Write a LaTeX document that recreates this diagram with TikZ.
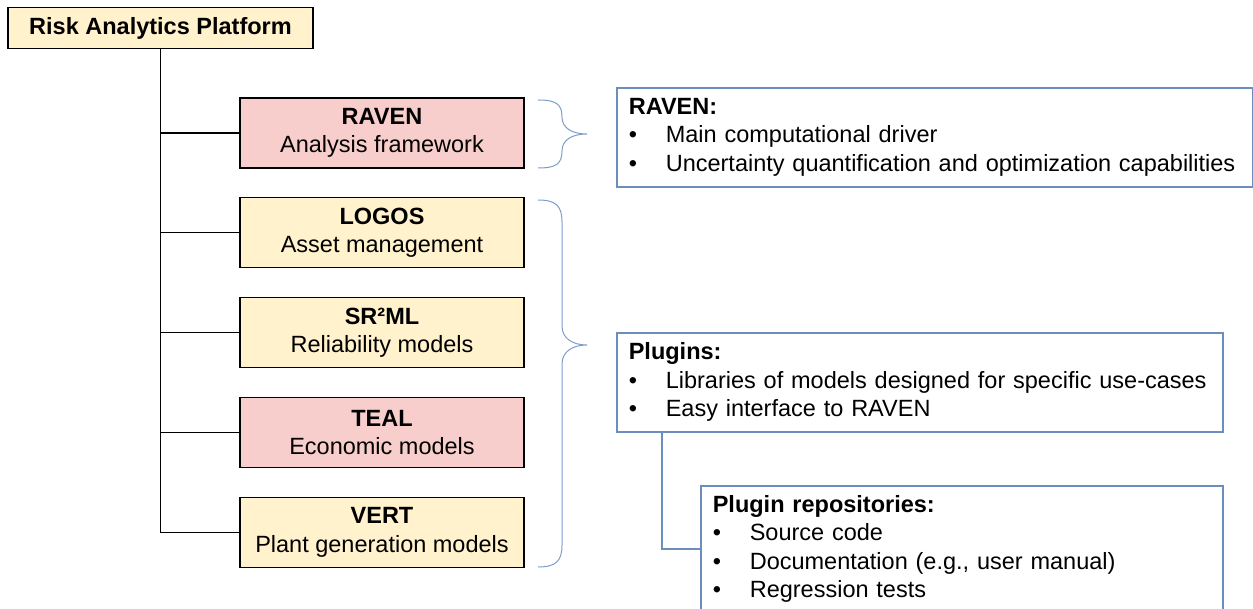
\documentclass[tikz,border=0pt]{standalone}
\usepackage{fontspec}
\setmainfont{Liberation Sans}
\usetikzlibrary{positioning}
\definecolor{boxyellow}{HTML}{FFF2CC}
\definecolor{boxpink}{HTML}{F8CECC}
\definecolor{boxblue}{HTML}{6C8EBF}
\definecolor{bracecol}{HTML}{7E9CCB}
\newcommand{\bul}{\makebox[37pt][l]{\textbullet}}
\begin{document}
\begin{tikzpicture}[x=1pt, y=-1pt, node distance=28.6pt,
  every node/.style = {font=\fontsize{23.5}{28.5}\selectfont},
  tool/.style = {shape=rectangle, draw, line width=1.2pt, align=center,
    minimum width=284pt, minimum height=70pt, inner sep=0pt},
  core/.style = {tool, fill=boxpink},
  plugin/.style = {tool, fill=boxyellow},
  info/.style = {shape=rectangle, draw=boxblue, line width=1.6pt, align=left,
    inner xsep=12pt, inner ysep=0pt, anchor=north west},
  link/.style = {line width=1.2pt},
  brc/.style = {draw=bracecol, line width=1pt}]
  \clip (0,0) rectangle (1253,609);
  \node[plugin, minimum width=305pt, minimum height=41pt] (platform) at (160.5,28)
    {\textbf{Risk Analytics Platform}};
  % tools
  \node[core] (raven) at (382,133) {\textbf{RAVEN}\\Analysis framework};
  \node[plugin, below=of raven] (logos) {\textbf{LOGOS}\\Asset management};
  \node[plugin, below=of logos] (sr2ml) {\textbf{SR²ML}\\Reliability models};
  \node[core, below=of sr2ml] (teal) {\textbf{TEAL}\\Economic models};
  \node[plugin, below=of teal] (vert) {\textbf{VERT}\\Plant generation models};
  \draw[link] (platform.south) |- (vert.west);
  \foreach \n in {raven, logos, sr2ml, teal}
    \draw[link] (platform.south |- \n.west) -- (\n.west);
  % braces
  \draw[brc] (538,100) .. controls (556,100) and (562,104) .. (562,117)
    .. controls (562,128) and (572,134) .. (587,134)
    .. controls (572,134) and (562,140) .. (562,151)
    .. controls (562,164) and (556,168) .. (538,168);
  \draw[brc] (538,200) .. controls (556,200) and (562,206) .. (562,222) -- (562,326)
    .. controls (562,338) and (572,345) .. (587,345)
    .. controls (572,345) and (562,352) .. (562,364) -- (562,545)
    .. controls (562,561) and (556,567) .. (538,567);
  % descriptions
  \node[info, text width=612pt, minimum height=99pt] (ravennote) at (616,87)
    {\textbf{RAVEN:}\\\bul Main computational driver\\\bul Uncertainty quantification and optimization capabilities};
  \node[info, text width=582pt, minimum height=99pt] (plugins) at (616,332)
    {\textbf{Plugins:}\\\bul Libraries of models designed for specific use-cases\\\bul Easy interface to RAVEN};
  \node[info, text width=498pt, minimum height=126pt] (repo) at (700,485)
    {\textbf{Plugin repositories:}\\\bul Source code\\\bul Documentation (e.g., user manual)\\\bul Regression tests};
  \draw[link, draw=boxblue, line width=1.6pt] ([xshift=46pt]plugins.south west) |- (repo.west);
\end{tikzpicture}
\end{document}
